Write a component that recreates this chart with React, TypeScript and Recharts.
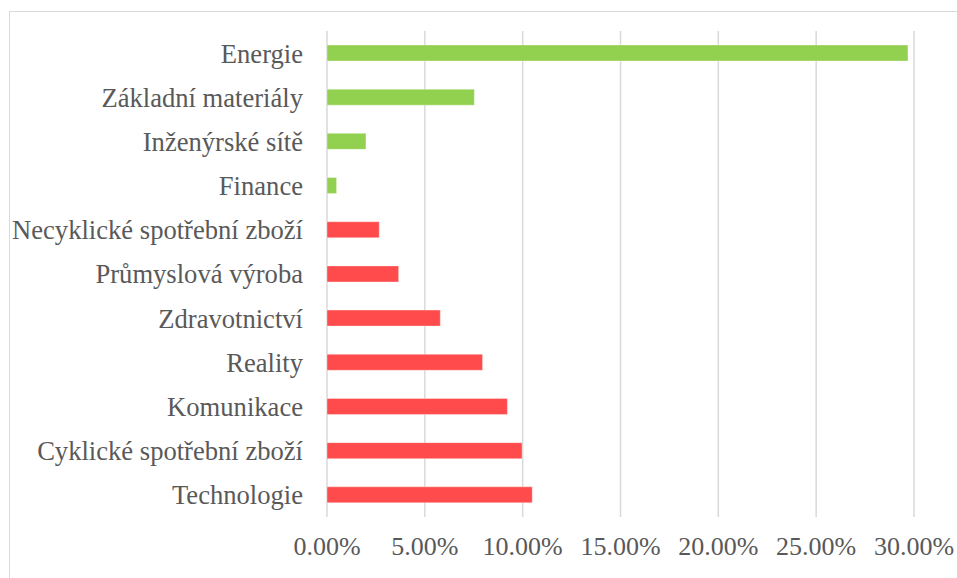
import React from "react";
import { BarChart, Bar, XAxis, YAxis, CartesianGrid, Cell } from "recharts";

const categories = [
  "Energie",
  "Základní materiály",
  "Inženýrské sítě",
  "Finance",
  "Necyklické spotřební zboží",
  "Průmyslová výroba",
  "Zdravotnictví",
  "Reality",
  "Komunikace",
  "Cyklické spotřební zboží",
  "Technologie",
];
const values = [0.2969, 0.0753, 0.0199, 0.0049, 0.0267, 0.0366, 0.0579, 0.0795, 0.0922, 0.0997, 0.1049];
const groups = ["up", "up", "up", "up", "down", "down", "down", "down", "down", "down", "down"];
const xTicks = [0, 0.05, 0.1, 0.15, 0.2, 0.25, 0.3];

const GREEN = "#92D050";
const RED = "#FF4B4B";
const FONT = "'Liberation Serif', 'Times New Roman', Times, serif";

const data = categories.map((name, i) => ({ name, value: values[i], group: groups[i] }));

export default function App() {
  return (
    <div
      style={{
        position: "absolute",
        left: 0,
        top: 0,
        width: 957,
        height: 578,
        overflow: "hidden",
        background: "#fff",
        fontFamily: FONT,
      }}
    >
      <div
        style={{
          position: "absolute",
          left: 9,
          top: 11,
          width: 1000,
          height: 1000,
          border: "1px solid #d9d9d9",
          boxSizing: "border-box",
        }}
      />
      <div style={{ position: "absolute", left: 0, top: 0, fontFamily: FONT }}>
        <BarChart
          width={957}
          height={578}
          data={data}
          layout="vertical"
          margin={{ top: 31, right: 43, bottom: 0, left: 0 }}
          barSize={16}
          style={{ fontFamily: FONT }}
        >
          <CartesianGrid horizontal={false} vertical={true} stroke="#d9d9d9" strokeWidth={1.5} />
          <XAxis
            type="number"
            domain={[0, 0.3]}
            ticks={xTicks}
            height={61}
            axisLine={false}
            tickLine={false}
            tickSize={0}
            tickMargin={20}
            interval={0}
            tickFormatter={(v: number) => (v * 100).toFixed(2) + "%"}
            tick={{ fill: "#595959", fontSize: 26, style: { fontFamily: FONT } }}
          />
          <YAxis
            type="category"
            dataKey="name"
            width={327}
            axisLine={false}
            tickLine={false}
            tickSize={0}
            tickMargin={24}
            interval={0}
            tick={{ fill: "#595959", fontSize: 26.6, style: { fontFamily: FONT } }}
          />
          <Bar dataKey="value" isAnimationActive={false} stroke="rgba(255,255,255,0.35)" strokeWidth={1}>
            {data.map((d, i) => (
              <Cell key={i} fill={d.group === "up" ? GREEN : RED} />
            ))}
          </Bar>
        </BarChart>
      </div>
    </div>
  );
}
